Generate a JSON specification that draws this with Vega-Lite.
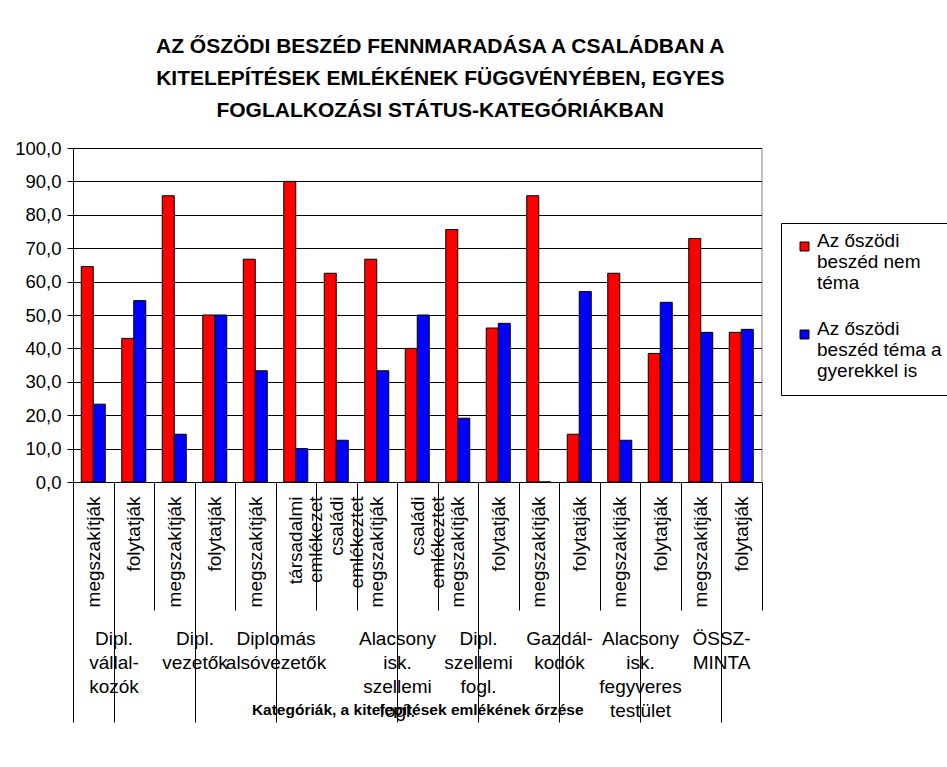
{
  "$schema": "https://vega.github.io/schema/vega-lite/v6.json",
  "padding": {"left": 14, "top": 36, "right": 0, "bottom": 0},
  "background": "white",
  "title": {
    "text": ["AZ ŐSZÖDI BESZÉD FENNMARADÁSA A CSALÁDBAN A", "KITELEPÍTÉSEK EMLÉKÉNEK FÜGGVÉNYÉBEN, EGYES", "FOGLALKOZÁSI STÁTUS-KATEGÓRIÁKBAN"],
    "font": "Liberation Sans", "fontSize": 21, "fontWeight": "bold", "lineHeight": 32, "color": "black",
    "anchor": "middle", "frame": "group", "dx": 23, "offset": 18
  },
  "data": {"values": [
    {"slot": "Dipl.\nvállal-\nkozók|megszakítják", "order": 1, "series": "Az őszödi\nbeszéd nem\ntéma", "value": 64.5},
    {"slot": "Dipl.\nvállal-\nkozók|megszakítják", "order": 1, "series": "Az őszödi\nbeszéd téma a\ngyerekkel is", "value": 23.3},
    {"slot": "Dipl.\nvállal-\nkozók|folytatják", "order": 2, "series": "Az őszödi\nbeszéd nem\ntéma", "value": 43.0},
    {"slot": "Dipl.\nvállal-\nkozók|folytatják", "order": 2, "series": "Az őszödi\nbeszéd téma a\ngyerekkel is", "value": 54.3},
    {"slot": "Dipl.\nvezetők|megszakítják", "order": 3, "series": "Az őszödi\nbeszéd nem\ntéma", "value": 85.7},
    {"slot": "Dipl.\nvezetők|megszakítják", "order": 3, "series": "Az őszödi\nbeszéd téma a\ngyerekkel is", "value": 14.3},
    {"slot": "Dipl.\nvezetők|folytatják", "order": 4, "series": "Az őszödi\nbeszéd nem\ntéma", "value": 50.0},
    {"slot": "Dipl.\nvezetők|folytatják", "order": 4, "series": "Az őszödi\nbeszéd téma a\ngyerekkel is", "value": 50.0},
    {"slot": "Diplomás\nalsóvezetők|megszakítják", "order": 5, "series": "Az őszödi\nbeszéd nem\ntéma", "value": 66.7},
    {"slot": "Diplomás\nalsóvezetők|megszakítják", "order": 5, "series": "Az őszödi\nbeszéd téma a\ngyerekkel is", "value": 33.3},
    {"slot": "Diplomás\nalsóvezetők|társadalmi emlékezet", "order": 6, "series": "Az őszödi\nbeszéd nem\ntéma", "value": 90.0},
    {"slot": "Diplomás\nalsóvezetők|társadalmi emlékezet", "order": 6, "series": "Az őszödi\nbeszéd téma a\ngyerekkel is", "value": 10.0},
    {"slot": "Diplomás\nalsóvezetők|családi emlékeztet", "order": 7, "series": "Az őszödi\nbeszéd nem\ntéma", "value": 62.5},
    {"slot": "Diplomás\nalsóvezetők|családi emlékeztet", "order": 7, "series": "Az őszödi\nbeszéd téma a\ngyerekkel is", "value": 12.5},
    {"slot": "Alacsony\nisk.\nszellemi\nfogl.|megszakítják", "order": 8, "series": "Az őszödi\nbeszéd nem\ntéma", "value": 66.7},
    {"slot": "Alacsony\nisk.\nszellemi\nfogl.|megszakítják", "order": 8, "series": "Az őszödi\nbeszéd téma a\ngyerekkel is", "value": 33.3},
    {"slot": "Alacsony\nisk.\nszellemi\nfogl.|családi emlékeztet", "order": 9, "series": "Az őszödi\nbeszéd nem\ntéma", "value": 40.0},
    {"slot": "Alacsony\nisk.\nszellemi\nfogl.|családi emlékeztet", "order": 9, "series": "Az őszödi\nbeszéd téma a\ngyerekkel is", "value": 50.0},
    {"slot": "Dipl.\nszellemi\nfogl.|megszakítják", "order": 10, "series": "Az őszödi\nbeszéd nem\ntéma", "value": 75.6},
    {"slot": "Dipl.\nszellemi\nfogl.|megszakítják", "order": 10, "series": "Az őszödi\nbeszéd téma a\ngyerekkel is", "value": 19.1},
    {"slot": "Dipl.\nszellemi\nfogl.|folytatják", "order": 11, "series": "Az őszödi\nbeszéd nem\ntéma", "value": 46.1},
    {"slot": "Dipl.\nszellemi\nfogl.|folytatják", "order": 11, "series": "Az őszödi\nbeszéd téma a\ngyerekkel is", "value": 47.5},
    {"slot": "Gazdál-\nkodók|megszakítják", "order": 12, "series": "Az őszödi\nbeszéd nem\ntéma", "value": 85.7},
    {"slot": "Gazdál-\nkodók|megszakítják", "order": 12, "series": "Az őszödi\nbeszéd téma a\ngyerekkel is", "value": 0},
    {"slot": "Gazdál-\nkodók|folytatják", "order": 13, "series": "Az őszödi\nbeszéd nem\ntéma", "value": 14.3},
    {"slot": "Gazdál-\nkodók|folytatják", "order": 13, "series": "Az őszödi\nbeszéd téma a\ngyerekkel is", "value": 57.0},
    {"slot": "Alacsony\nisk.\nfegyveres\ntestület|megszakítják", "order": 14, "series": "Az őszödi\nbeszéd nem\ntéma", "value": 62.5},
    {"slot": "Alacsony\nisk.\nfegyveres\ntestület|megszakítják", "order": 14, "series": "Az őszödi\nbeszéd téma a\ngyerekkel is", "value": 12.5},
    {"slot": "Alacsony\nisk.\nfegyveres\ntestület|folytatják", "order": 15, "series": "Az őszödi\nbeszéd nem\ntéma", "value": 38.5},
    {"slot": "Alacsony\nisk.\nfegyveres\ntestület|folytatják", "order": 15, "series": "Az őszödi\nbeszéd téma a\ngyerekkel is", "value": 53.8},
    {"slot": "ÖSSZ-\nMINTA|megszakítják", "order": 16, "series": "Az őszödi\nbeszéd nem\ntéma", "value": 72.9},
    {"slot": "ÖSSZ-\nMINTA|megszakítják", "order": 16, "series": "Az őszödi\nbeszéd téma a\ngyerekkel is", "value": 44.8},
    {"slot": "ÖSSZ-\nMINTA|folytatják", "order": 17, "series": "Az őszödi\nbeszéd nem\ntéma", "value": 44.8},
    {"slot": "ÖSSZ-\nMINTA|folytatják", "order": 17, "series": "Az őszödi\nbeszéd téma a\ngyerekkel is", "value": 45.7}
  ]},
  "width": {"step": 12},
  "height": 334,
  "layer": [
    {
      "mark": {"type": "bar", "stroke": "black", "strokeWidth": 1},
      "encoding": {
        "x": {
          "field": "slot", "type": "nominal", "sort": {"field": "order", "op": "min"},
          "scale": {"paddingInner": 0, "paddingOuter": 0},
          "axis": {
            "title": null, "labelAngle": 270,
            "labelExpr": "length(split(datum.label, '|')) > 1 ? split(split(datum.label, '|')[1], ' ') : ''",
            "labelFont": "Liberation Sans", "labelFontSize": 19, "labelColor": "black", "labelLineHeight": 20, "labelLimit": 0,
            "tickBand": "extent", "tickSize": 128, "tickColor": "black", "domainColor": "black", "labelPadding": -114
          }
        },
        "xOffset": {
          "field": "series", "type": "nominal",
          "sort": ["Az őszödi\nbeszéd nem\ntéma", "Az őszödi\nbeszéd téma a\ngyerekkel is"],
          "scale": {"paddingInner": 0, "paddingOuter": 0.6875}
        },
        "y": {
          "field": "value", "type": "quantitative",
          "scale": {"domain": [0, 100], "nice": false},
          "axis": {
            "title": null, "values": [0, 10, 20, 30, 40, 50, 60, 70, 80, 90, 100],
            "labelExpr": "replace(format(datum.value, '.1f'), '.', ',')",
            "grid": true, "gridColor": "black", "gridOpacity": 1,
            "domainColor": "black", "tickColor": "black", "tickSize": 6,
            "labelFont": "Liberation Sans", "labelFontSize": 18.5, "labelColor": "black", "labelPadding": 6
          }
        },
        "color": {
          "field": "series", "type": "nominal",
          "scale": {"domain": ["Az őszödi\nbeszéd nem\ntéma", "Az őszödi\nbeszéd téma a\ngyerekkel is"], "range": ["#FF0000", "#0000FF"]},
          "legend": {
            "title": null, "orient": "none", "legendX": 708, "legendY": 75,
            "labelExpr": "split(datum.label, '\\n')",
            "labelFont": "Liberation Sans", "labelFontSize": 19, "labelColor": "black", "labelLineHeight": 22, "labelLimit": 0,
            "labelBaseline": "alphabetic", "labelOffset": 3,
            "symbolType": "square", "symbolSize": 80, "symbolStrokeColor": "black", "symbolStrokeWidth": 1,
            "strokeColor": "black", "fillColor": "white", "padding": 14, "rowPadding": 26
          }
        }
      }
    },
    {
      "mark": {"type": "rule", "opacity": 0},
      "encoding": {
        "x": {
          "field": "slot", "type": "nominal", "sort": {"field": "order", "op": "min"},
          "axis": {
            "orient": "bottom",
            "values": ["Dipl.\nvállal-\nkozók|megszakítják", "Dipl.\nvezetők|megszakítják", "Diplomás\nalsóvezetők|megszakítják", "Alacsony\nisk.\nszellemi\nfogl.|megszakítják", "Dipl.\nszellemi\nfogl.|megszakítják", "Gazdál-\nkodók|megszakítják", "Alacsony\nisk.\nfegyveres\ntestület|megszakítják", "ÖSSZ-\nMINTA|megszakítják"],
            "tickBand": "extent", "tickSize": 240, "tickColor": "black",
            "labelExpr": "length(split(datum.label, '|')) > 1 ? split(split(datum.label, '|')[0], '\\n') : ''",
            "labelAngle": 0, "labelAlign": "center", "labelBaseline": "top",
            "labelFont": "Liberation Sans", "labelFontSize": 19, "labelColor": "black", "labelLineHeight": 24, "labelLimit": 0,
            "labelPadding": -93, "labelOffset": 20.25,
            "labelOverlap": false,
            "domain": false, "grid": false,
            "title": "Kategóriák, a kitelepítések emlékének őrzése",
            "titleFont": "Liberation Sans", "titleFontSize": 15.5, "titleFontWeight": "bold", "titleColor": "black",
            "titlePadding": 20
          }
        }
      }
    }
  ],
  "resolve": {"axis": {"x": "independent"}},
  "config": {
    "view": {"stroke": "#808080"}
  }
}
